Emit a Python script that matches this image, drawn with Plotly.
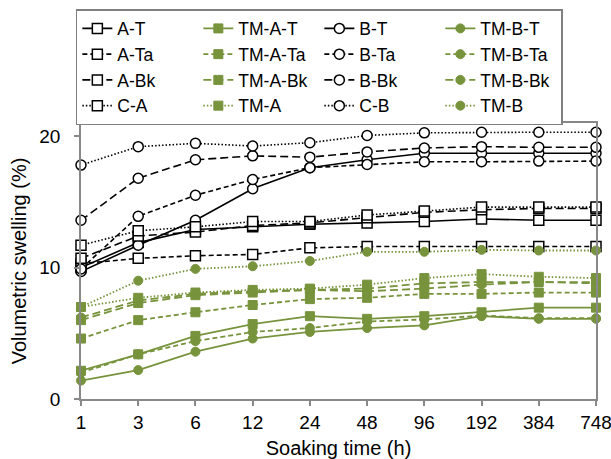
import plotly.graph_objects as go

soak_times = ['1', '3', '6', '12', '24', '48', '96', '192', '384', '748']

# Black open-square series
A_T = [10.0, 11.9, 12.9, 13.1, 13.3, 13.4, 13.5, 13.7, 13.6, 13.6]
A_Ta = [10.3, 10.7, 10.9, 11.0, 11.5, 11.6, 11.6, 11.6, 11.6, 11.6]
A_Bk = [10.7, 12.4, 12.7, 13.2, 13.4, 13.8, 14.2, 14.4, 14.5, 14.5]
C_A = [11.7, 12.8, 13.1, 13.5, 13.5, 14.0, 14.3, 14.6, 14.6, 14.6]

# Black open-circle series
B_T = [9.7, 11.7, 13.6, 16.0, 17.6, 18.2, 18.7, 18.7, 18.7, 18.7]
B_Ta = [9.9, 13.9, 15.5, 16.7, 17.6, 17.85, 18.05, 18.05, 18.1, 18.1]
B_Bk = [13.6, 16.8, 18.2, 18.5, 18.4, 18.8, 19.1, 19.2, 19.15, 19.15]
C_B = [17.8, 19.2, 19.45, 19.25, 19.5, 20.05, 20.25, 20.3, 20.3, 20.3]

# Green filled-square series
TM_A_T = [2.15, 3.4, 4.8, 5.7, 6.3, 6.1, 6.3, 6.6, 6.95, 6.95]
TM_A_Ta = [4.6, 6.0, 6.6, 7.15, 7.6, 7.7, 8.0, 8.0, 8.1, 8.1]
TM_A_Bk = [6.0, 7.3, 7.9, 8.1, 8.3, 8.4, 8.8, 8.9, 8.9, 8.8]
TM_A = [7.0, 7.7, 8.1, 8.3, 8.4, 8.7, 9.2, 9.5, 9.3, 9.2]

# Green filled-circle series
TM_B_T = [1.4, 2.2, 3.6, 4.6, 5.1, 5.4, 5.6, 6.3, 6.1, 6.1]
TM_B_Ta = [2.0, 3.4, 4.4, 5.1, 5.4, 5.9, 6.05, 6.35, 6.15, 6.15]
TM_B_Bk = [6.2, 7.5, 8.0, 8.2, 8.3, 8.2, 8.4, 8.7, 8.9, 8.9]
TM_B = [7.0, 9.0, 9.9, 10.1, 10.5, 11.2, 11.2, 11.35, 11.3, 11.3]

GREEN = '#77933C'
BLACK = '#000000'

DASH = {'T': 'solid', 'Ta': '5px,3px', 'Bk': '8px,4px', 'P': '1.5px,2px'}

# legend order (row-major, 4 columns)
series = [
    ('A-T', A_T, 'sq', 'T'), ('TM-A-T', TM_A_T, 'gsq', 'T'), ('B-T', B_T, 'ci', 'T'), ('TM-B-T', TM_B_T, 'gci', 'T'),
    ('A-Ta', A_Ta, 'sq', 'Ta'), ('TM-A-Ta', TM_A_Ta, 'gsq', 'Ta'), ('B-Ta', B_Ta, 'ci', 'Ta'), ('TM-B-Ta', TM_B_Ta, 'gci', 'Ta'),
    ('A-Bk', A_Bk, 'sq', 'Bk'), ('TM-A-Bk', TM_A_Bk, 'gsq', 'Bk'), ('B-Bk', B_Bk, 'ci', 'Bk'), ('TM-B-Bk', TM_B_Bk, 'gci', 'Bk'),
    ('C-A', C_A, 'sq', 'P'), ('TM-A', TM_A, 'gsq', 'P'), ('C-B', C_B, 'ci', 'P'), ('TM-B', TM_B, 'gci', 'P'),
]

fig = go.Figure()
for name, vals, kind, style in series:
    if kind == 'sq':
        marker = dict(symbol='square', size=10, color='white', line=dict(color=BLACK, width=1.5))
        line = dict(color=BLACK, width=1.6, dash=DASH[style])
    elif kind == 'ci':
        marker = dict(symbol='circle', size=10, color='white', line=dict(color=BLACK, width=1.5))
        line = dict(color=BLACK, width=1.6, dash=DASH[style])
    elif kind == 'gsq':
        marker = dict(symbol='square', size=9, color=GREEN, line=dict(color=GREEN, width=1))
        line = dict(color=GREEN, width=1.8, dash=DASH[style])
    else:
        marker = dict(symbol='circle', size=9, color=GREEN, line=dict(color=GREEN, width=1))
        line = dict(color=GREEN, width=1.8, dash=DASH[style])
    fig.add_trace(go.Scatter(x=soak_times, y=vals, name=name, mode='lines+markers',
                             marker=marker, line=line, cliponaxis=False))

FAM = 'Liberation Sans, Arial, sans-serif'
tick_font = dict(family=FAM, size=19, color='#000000')
title_font = dict(family=FAM, size=20, color='#000000')

fig.update_layout(
    width=611, height=459,
    margin=dict(l=81, r=15, t=123, b=60, autoexpand=False),
    paper_bgcolor='white', plot_bgcolor='white',
    font=tick_font,
    showlegend=True,
    legend=dict(
        orientation='h', x=-0.01, xanchor='left', y=1.413, yanchor='top',
        entrywidth=76, entrywidthmode='pixels',
        bordercolor='#808080', borderwidth=1.5,
        font=dict(family=FAM, size=17.5, color='#000000'),
        traceorder='normal', itemwidth=30,
    ),
    xaxis=dict(
        type='category', categoryorder='array', categoryarray=soak_times,
        range=[0, 9], showgrid=False, zeroline=False,
        showline=True, linecolor='#888888', linewidth=1.5, mirror=True,
        ticks='outside', ticklen=5, tickcolor='#888888', tickwidth=1.5,
        title=dict(text='Soaking time (h)', standoff=10, font=title_font),
        tickfont=tick_font,
    ),
    yaxis=dict(
        range=[0, 21], tickvals=[0, 10, 20], showgrid=False, zeroline=False,
        showline=True, linecolor='#888888', linewidth=1.5, mirror=True,
        ticks='outside', ticklen=5, tickcolor='#888888', tickwidth=1.5,
        ticklabelstandoff=10,
        title=dict(text='Volumetric swelling (%)', standoff=7, font=title_font),
        tickfont=tick_font,
    ),
)

fig.write_html('out.html', config={'displayModeBar': False},
               post_script="document.body.style.margin='0';document.body.style.overflow='hidden';")
